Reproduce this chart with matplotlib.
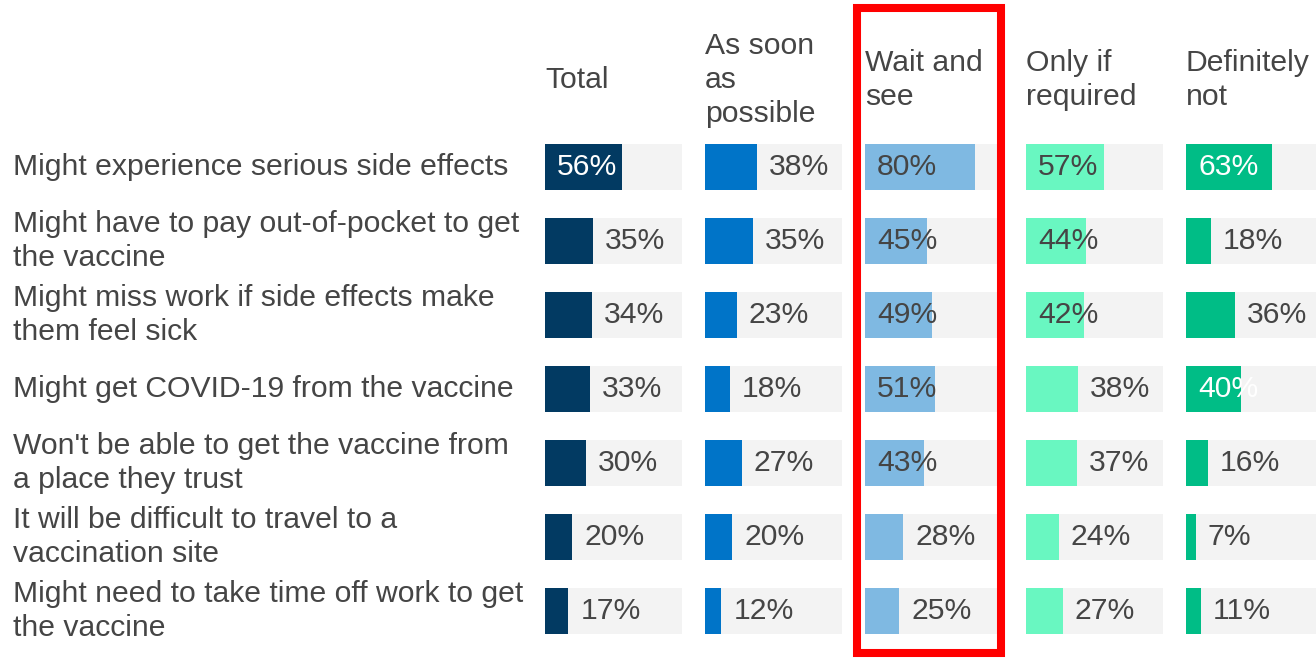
import matplotlib.pyplot as plt
from matplotlib.patches import Rectangle
from matplotlib.transforms import blended_transform_factory

plt.rcParams['font.family'] = ['Liberation Sans', 'DejaVu Sans']

reasons = [
    "Might experience serious side effects",
    "Might have to pay out-of-pocket to get\nthe vaccine",
    "Might miss work if side effects make\nthem feel sick",
    "Might get COVID-19 from the vaccine",
    "Won't be able to get the vaccine from\na place they trust",
    "It will be difficult to travel to a\nvaccination site",
    "Might need to take time off work to get\nthe vaccine",
]
headers = ["Total", "As soon\nas\npossible", "Wait and\nsee", "Only if\nrequired", "Definitely\nnot"]

total = [56, 35, 34, 33, 30, 20, 17]
asap = [38, 35, 23, 18, 27, 20, 12]
wait_see = [80, 45, 49, 51, 43, 28, 25]
only_required = [57, 44, 42, 38, 37, 24, 27]
definitely_not = [63, 18, 36, 40, 16, 7, 11]

series = [total, asap, wait_see, only_required, definitely_not]
colors = ["#023a62", "#0074c8", "#7fb9e2", "#69f7c1", "#00bd86"]
inside_text = ["white", "#454545", "#454545", "#454545", "white"]

W, H = 1316, 660
TXT = "#454545"
FS = 21.7

fig = plt.figure(figsize=(W / 100, H / 100), dpi=100)

col_left = [545, 705, 865, 1026, 1186]
col_w = 137
top_px, bot_px = 130, 648
pad = 12 / col_w * 100  # 12 px in data units

axes = []
for i, vals in enumerate(series):
    ax = fig.add_axes([col_left[i] / W, (H - bot_px) / H, col_w / W, (bot_px - top_px) / H])
    ypos = list(range(len(vals)))
    ax.barh(ypos, [100] * len(vals), height=0.63, color="#f3f3f3")
    ax.barh(ypos, vals, height=0.63, color=colors[i])
    for y, v in zip(ypos, vals):
        if v >= 40:
            ax.text(pad, y, f"{v}%", color=inside_text[i], fontsize=FS, va="center", ha="left")
        else:
            ax.text(v + pad, y, f"{v}%", color=TXT, fontsize=FS, va="center", ha="left")
    ax.set_xlim(0, 100)
    ax.set_ylim(len(vals) - 0.5, -0.5)
    ax.axis("off")
    htrans = blended_transform_factory(ax.transData, fig.transFigure)
    ax.text(0, 1 - 80 / H, headers[i], transform=htrans, fontsize=FS, color=TXT,
            va="center", ha="left", linespacing=1.25)
    axes.append(ax)

ltrans = blended_transform_factory(fig.transFigure, axes[0].transData)
for y, lab in enumerate(reasons):
    axes[0].text(13 / W, y, lab, transform=ltrans, fontsize=FS, color=TXT,
                 va="center", ha="left", linespacing=1.25)

# highlight box around "Wait and see"
box = Rectangle((857 / W, (H - 653) / H), (1001 - 857) / W, (653 - 7.5) / H,
                transform=fig.transFigure, fill=False, ec="#ff0000", lw=5.8,
                joinstyle="miter")
fig.add_artist(box)

fig.savefig("out.png", dpi=100)
